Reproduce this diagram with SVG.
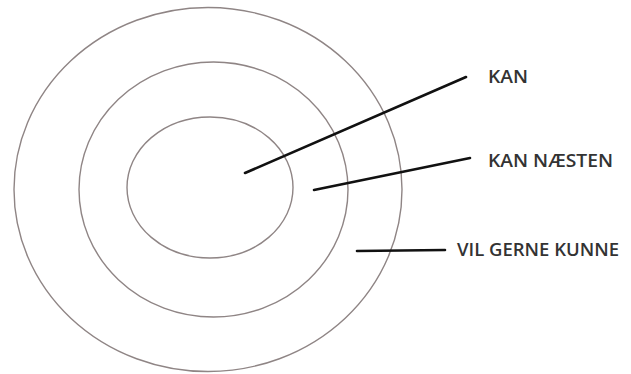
<svg xmlns="http://www.w3.org/2000/svg" width="631" height="374" viewBox="0 0 631 374">
<style>
.ring{fill:none;stroke:#8f8585;stroke-width:1.4}
.lead{stroke:#111;stroke-width:2.6;stroke-linecap:round}
.lbl{font-family:"Open Sans","DejaVu Sans",sans-serif;font-size:18px;font-weight:600;fill:#333}
</style>
<rect width="631" height="374" fill="#fff"/>
<g id="outer"><ellipse class="ring" cx="208" cy="189.5" rx="194" ry="182"/></g>
<g id="middle"><ellipse class="ring" cx="213.5" cy="189.5" rx="134.5" ry="127.5"/></g>
<g id="inner"><ellipse class="ring" cx="210" cy="187.5" rx="83" ry="70.5"/></g>
<g id="connectors">
<line class="lead" x1="245" y1="173" x2="466" y2="77"/>
<line class="lead" x1="314" y1="190" x2="470" y2="158"/>
<line class="lead" x1="357" y1="251" x2="445" y2="250"/>
</g>
<g id="label-kan"><text class="lbl" x="488" y="83" textLength="40" lengthAdjust="spacingAndGlyphs">KAN</text></g>
<g id="label-kan-naesten"><text class="lbl" x="488" y="167" textLength="125" lengthAdjust="spacingAndGlyphs">KAN NÆSTEN</text></g>
<g id="label-vil-gerne-kunne"><text class="lbl" x="457" y="256" textLength="162" lengthAdjust="spacingAndGlyphs">VIL GERNE KUNNE</text></g>
</svg>
